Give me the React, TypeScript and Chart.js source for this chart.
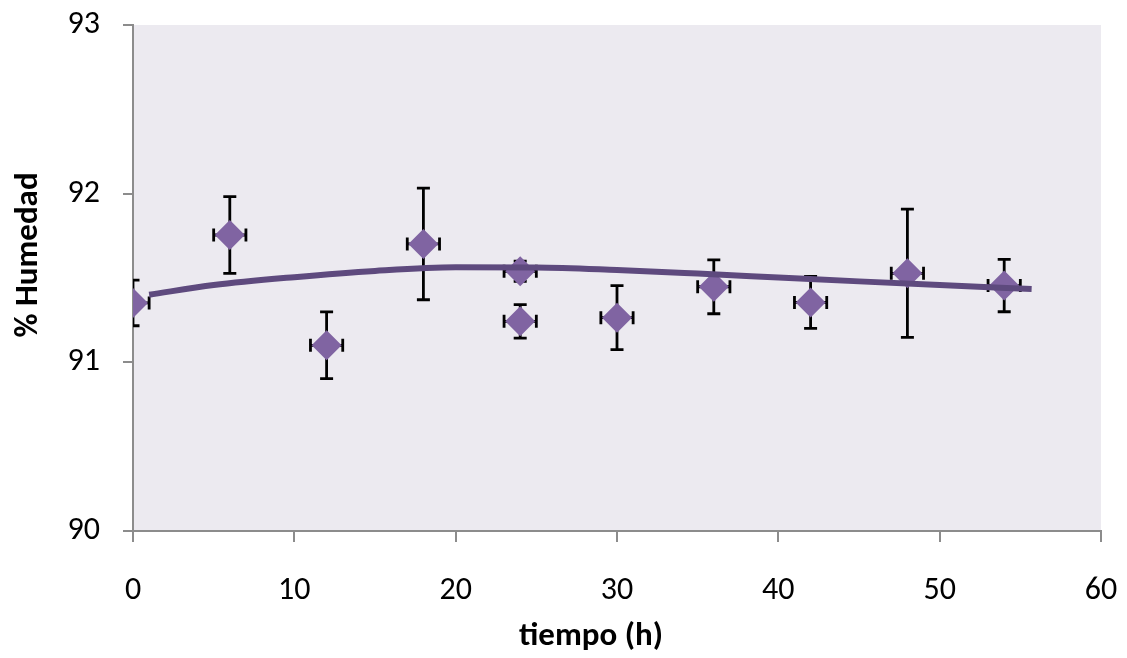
import React, { useEffect, useRef } from "react";
import { Chart, registerables } from "chart.js";

Chart.register(...registerables);

// Measured points (tiempo in h, % humedad)
const xValues = [0, 6, 12, 18, 24, 24, 30, 36, 42, 48, 54];
const yValues = [91.352, 91.755, 91.101, 91.702, 91.54, 91.243, 91.265, 91.448, 91.355, 91.528, 91.455];
const yErrors = [0.135, 0.228, 0.198, 0.331, 0.06, 0.099, 0.19, 0.16, 0.154, 0.38, 0.155];
const xErrors = [1, 1, 1, 1, 1, 1, 1, 1, 1, 1, 1];

// Trend line
const trendX = [1, 5, 10, 15, 20, 25, 30, 35, 40, 45, 50, 55.7];
const trendY = [91.401, 91.458, 91.505, 91.542, 91.563, 91.562, 91.547, 91.526, 91.503, 91.48, 91.458, 91.435];

const xTicks = [0, 10, 20, 30, 40, 50, 60];
const yTicks = [90, 91, 92, 93];

const FONT = "Carlito, Calibri, Lato, 'Open Sans', sans-serif";

export default function App() {
  const ref = useRef<HTMLCanvasElement | null>(null);

  useEffect(() => {
    if (!ref.current) return;

    const bgPlugin = {
      id: "bgPlugin",
      beforeDraw(chart: any) {
        const { ctx, chartArea } = chart;
        ctx.save();
        ctx.fillStyle = "#ECEAF0";
        ctx.fillRect(chartArea.left, chartArea.top, chartArea.right - chartArea.left, chartArea.bottom - chartArea.top);
        ctx.restore();
      },
    };

    const errorBarPlugin = {
      id: "errorBars",
      beforeDatasetsDraw(chart: any) {
        const { ctx, chartArea, scales } = chart;
        const xs = scales.x;
        const ys = scales.y;
        ctx.save();
        ctx.beginPath();
        ctx.rect(chartArea.left, chartArea.top - 2, chartArea.right - chartArea.left, chartArea.bottom - chartArea.top + 4);
        ctx.clip();
        ctx.strokeStyle = "#000000";
        ctx.lineWidth = 2.8;
        const cap = 6.5;
        for (let i = 0; i < xValues.length; i++) {
          const px = xs.getPixelForValue(xValues[i]);
          const py = ys.getPixelForValue(yValues[i]);
          const yTop = ys.getPixelForValue(yValues[i] + yErrors[i]);
          const yBot = ys.getPixelForValue(yValues[i] - yErrors[i]);
          const xL = xs.getPixelForValue(xValues[i] - xErrors[i]);
          const xR = xs.getPixelForValue(xValues[i] + xErrors[i]);
          ctx.beginPath();
          ctx.moveTo(px, yTop);
          ctx.lineTo(px, yBot);
          ctx.moveTo(px - cap, yTop);
          ctx.lineTo(px + cap, yTop);
          ctx.moveTo(px - cap, yBot);
          ctx.lineTo(px + cap, yBot);
          ctx.moveTo(xL, py);
          ctx.lineTo(xR, py);
          ctx.moveTo(xL, py - cap);
          ctx.lineTo(xL, py + cap);
          ctx.moveTo(xR, py - cap);
          ctx.lineTo(xR, py + cap);
          ctx.stroke();
        }
        ctx.restore();
      },
    };

    const titlePlugin = {
      id: "axisTitles",
      afterDraw(chart: any) {
        const { ctx } = chart;
        ctx.save();
        ctx.fillStyle = "#000000";
        ctx.font = `bold 33px ${FONT}`;
        ctx.textAlign = "center";
        ctx.textBaseline = "alphabetic";
        ctx.fillText("tiempo (h)", 591, 645);
        ctx.translate(37, 255);
        ctx.rotate(-Math.PI / 2);
        ctx.fillText("% Humedad", 0, 0);
        ctx.restore();
      },
    };

    const chart = new Chart(ref.current, {
      type: "scatter",
      data: {
        datasets: [
          {
            type: "line" as any,
            label: "trend",
            data: trendX.map((x, i) => ({ x, y: trendY[i] })),
            borderColor: "#5E4A7E",
            borderWidth: 6,
            pointRadius: 0,
            fill: false,
            cubicInterpolationMode: "monotone",
            order: 0,
          } as any,
          {
            label: "data",
            data: xValues.map((x, i) => ({ x, y: yValues[i] })),
            pointStyle: "rectRot",
            pointRadius: 15,
            backgroundColor: "#8064A2",
            borderColor: "#8064A2",
            borderWidth: 0,
            order: 1,
          },
        ],
      },
      options: {
        responsive: false,
        animation: false,
        layout: { padding: { left: 0, top: 25, right: 26, bottom: 0 } },
        plugins: {
          legend: { display: false },
          tooltip: { enabled: false },
        },
        scales: {
          x: {
            type: "linear",
            min: 0,
            max: 60,
            afterBuildTicks(scale: any) {
              scale.ticks = xTicks.map((v) => ({ value: v }));
            },
            afterFit(scale: any) {
              scale.height = 127;
              scale.paddingLeft = 0;
              scale.paddingRight = 0;
            },
            grid: { drawOnChartArea: false, drawTicks: true, tickLength: 11, color: "#8C8C8C", lineWidth: 2 },
            border: { color: "#8C8C8C", width: 2 },
            ticks: { color: "#000000", font: { family: FONT, size: 32 }, padding: 30, maxRotation: 0 },
          },
          y: {
            type: "linear",
            min: 90,
            max: 93,
            afterBuildTicks(scale: any) {
              scale.ticks = yTicks.map((v) => ({ value: v }));
            },
            afterFit(scale: any) {
              scale.width = 133;
              scale.paddingTop = 0;
              scale.paddingBottom = 0;
            },
            grid: { drawOnChartArea: false, drawTicks: true, tickLength: 10, color: "#8C8C8C", lineWidth: 2 },
            border: { color: "#8C8C8C", width: 2 },
            ticks: { color: "#000000", font: { family: FONT, size: 32 }, padding: 23 },
          },
        },
      },
      plugins: [bgPlugin, errorBarPlugin, titlePlugin],
    });

    return () => chart.destroy();
  }, []);

  return (
    <div style={{ position: "absolute", left: 0, top: 0, width: 1127, height: 658, background: "#ffffff" }}>
      <canvas ref={ref} width={1127} height={658} style={{ display: "block" }} />
    </div>
  );
}
